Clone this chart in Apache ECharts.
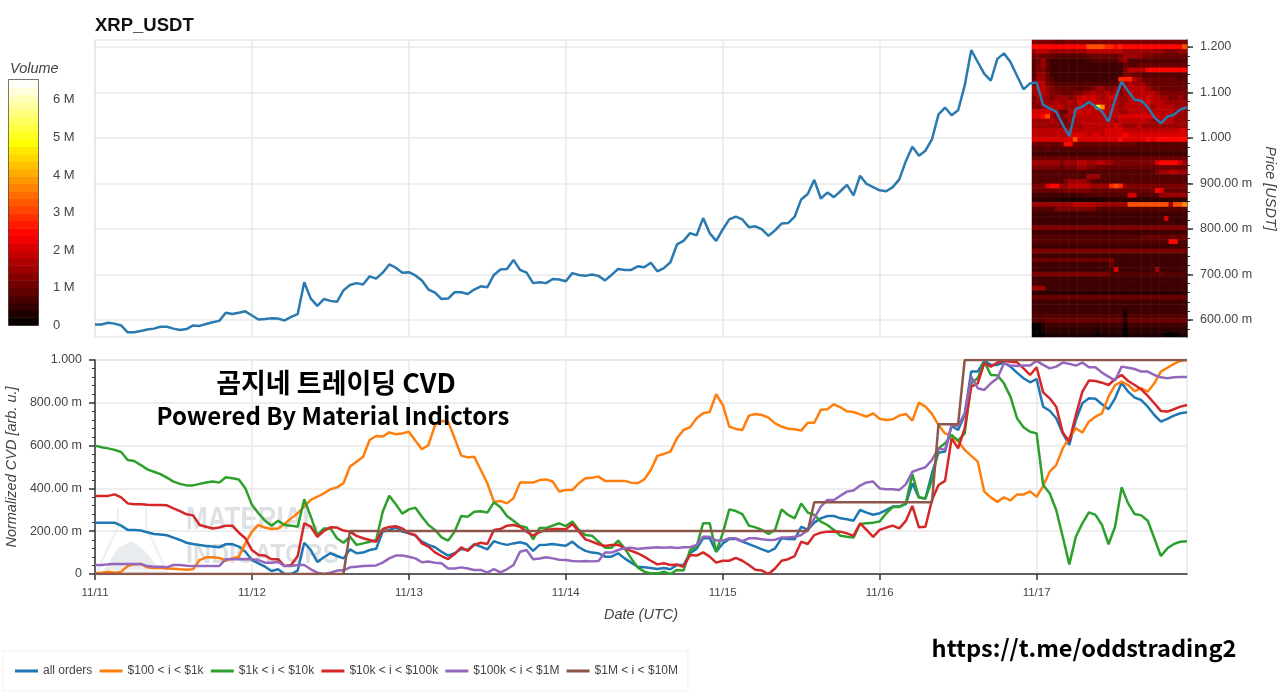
<!DOCTYPE html>
<html>
<head>
<meta charset="utf-8">
<title>XRP_USDT CVD</title>
<script src="https://cdn.jsdelivr.net/npm/echarts@6/dist/echarts.min.js"></script>
<style>
  html, body { margin: 0; padding: 0; background: #fff; }
  #chart { width: 1280px; height: 693px; }
</style>
</head>
<body>
<div id="chart"></div>
<script>
// hourly samples, one line per day
const dayLabels = ['11/11', '11/12', '11/13', '11/14', '11/15', '11/16', '11/17']

const price = [
  .590,.590,.594,.592,.588,.573,.573,.576,.579,.581,.585,.585,.581,.578,.580,.588,.587,.591,.595,.598,.616,.613,.616,.619,
  .610,.601,.602,.604,.603,.599,.607,.613,.683,.647,.631,.646,.642,.640,.665,.677,.681,.678,.696,.691,.704,.722,.715,.704,
  .705,.698,.687,.667,.660,.646,.647,.661,.661,.657,.667,.674,.672,.699,.711,.712,.732,.710,.704,.681,.683,.681,.690,.689,
  .685,.703,.699,.697,.700,.697,.687,.699,.712,.710,.710,.718,.716,.726,.707,.714,.727,.766,.774,.791,.786,.824,.791,.774,
  .799,.821,.827,.821,.804,.806,.799,.785,.797,.812,.813,.827,.865,.877,.908,.867,.880,.870,.883,.897,.874,.917,.899,.892,
  .885,.883,.892,.909,.949,.981,.961,.972,.997,1.052,1.067,1.050,1.061,1.115,1.193,1.167,1.141,1.126,1.174,1.186,1.167,1.137,1.107,1.120,
  1.122,1.073,1.065,1.058,1.029,1.004,1.064,1.069,1.079,1.069,1.058,1.036,1.084,1.124,1.103,1.084,1.082,1.068,1.046,1.032,1.047,1.051,1.063,1.068
]
const priceTicks = [.6, .7, .8, .9, 1, 1.1, 1.2]
const priceMinorTicks = [
  .58, .6, .62, .64, .66, .68, .7, .72, .74, .76, .78, .8, .82, .84, .86, .88, .9, .92, .94, .96,
  .98, 1, 1.02, 1.04, 1.06, 1.08, 1.1, 1.12, 1.14, 1.16, 1.18, 1.2
]

const allOrders = [
  .240,.240,.240,.240,.226,.206,.206,.203,.195,.187,.185,.181,.170,.159,.146,.140,.136,.131,.128,.125,.139,.140,.128,.104,
  .065,.050,.034,.014,.022,0,0,.016,.146,.112,.056,.078,.097,.084,.073,.115,.097,.100,.112,.118,.198,.206,.217,.198,
  .190,.179,.151,.136,.125,.104,.086,.097,.117,.112,.139,.128,.115,.153,.143,.136,.143,.148,.140,.108,.136,.137,.140,.136,
  .132,.151,.125,.108,.100,.097,.081,.081,.097,.073,.053,.034,.031,.028,.023,.028,.022,.042,.042,.097,.117,.167,.167,.104,
  .143,.164,.164,.151,.140,.128,.115,.104,.120,.167,.164,.162,.221,.206,.240,.260,.271,.271,.260,.256,.249,.299,.287,.277,
  .284,.299,.315,.315,.327,.424,.358,.352,.471,.567,.572,.692,.673,.743,.946,.946,.996,.977,.977,.988,.969,.941,.915,.896,
  .911,.782,.763,.728,.657,.603,.720,.798,.821,.819,.793,.770,.821,.894,.852,.824,.813,.782,.743,.712,.725,.740,.751,.756
]

const from100 = [
  .003,.006,.011,.006,.011,.037,.045,.047,.031,.028,.028,.026,.025,.022,.020,.022,.065,.078,.078,.075,.062,.073,.081,.143,
  .198,.229,.217,.210,.213,.234,.260,.284,.315,.346,.361,.377,.396,.405,.424,.502,.525,.548,.626,.645,.642,.662,.653,.657,
  .665,.623,.583,.603,.696,.715,.712,.634,.553,.545,.548,.486,.424,.338,.341,.330,.354,.427,.428,.427,.439,.442,.432,.385,
  .393,.393,.424,.447,.450,.455,.435,.435,.435,.435,.427,.424,.442,.486,.552,.561,.572,.634,.673,.686,.728,.751,.757,.840,
  .790,.689,.678,.673,.740,.748,.743,.731,.704,.689,.679,.676,.670,.707,.707,.767,.770,.793,.779,.760,.757,.746,.735,.751,
  .725,.720,.723,.740,.748,.717,.801,.782,.748,.696,.657,.645,.619,.580,.552,.525,.385,.358,.337,.358,.344,.371,.371,.386,
  .361,.411,.478,.509,.587,.637,.681,.661,.712,.735,.751,.829,.883,.899,.883,.855,.868,.852,.891,.946,.964,.982,.996,1
]

const from1k = [
  .600,.592,.587,.580,.570,.533,.528,.509,.489,.478,.467,.450,.432,.421,.414,.414,.421,.428,.432,.427,.452,.447,.442,.400,
  .323,.284,.249,.226,.249,.229,.226,.221,.349,.268,.182,.213,.213,.167,.146,.174,.136,.143,.151,.159,.291,.366,.326,.282,
  .302,.310,.268,.229,.206,.171,.156,.198,.271,.268,.291,.293,.287,.335,.312,.271,.249,.224,.217,.162,.215,.215,.226,.237,
  .224,.245,.206,.182,.179,.151,.123,.123,.156,.120,.073,.031,.011,.003,.003,.011,0,.019,.016,.112,.128,.237,.237,.104,
  .190,.302,.294,.280,.226,.218,.206,.187,.206,.302,.276,.260,.330,.287,.276,.245,.229,.206,.179,.174,.170,.234,.237,.240,
  .245,.284,.313,.313,.330,.467,.357,.354,.439,.587,.611,.650,.623,.657,.891,.915,.992,.930,.929,.891,.829,.728,.686,.665,
  .657,.416,.377,.299,.174,.045,.174,.237,.288,.276,.229,.139,.221,.405,.330,.280,.274,.249,.167,.084,.120,.140,.151,.153
]

const from10k = [
  .365,.365,.365,.372,.358,.330,.326,.326,.324,.323,.322,.321,.307,.294,.279,.274,.229,.221,.213,.217,.226,.226,.193,.167,
  .112,.089,.086,.069,.069,.037,.042,.084,.237,.221,.174,.201,.218,.217,.203,.198,.178,.167,.159,.151,.210,.220,.223,.213,
  .190,.182,.143,.128,.101,.084,.070,.093,.125,.108,.136,.146,.140,.206,.210,.226,.229,.221,.198,.179,.196,.206,.210,.210,
  .209,.234,.198,.162,.151,.139,.131,.136,.137,.120,.108,.097,.081,.062,.045,.050,.042,.044,.034,.089,.086,.101,.081,.053,
  .062,.062,.075,.062,.042,.020,.016,0,.026,.062,.069,.084,.151,.140,.182,.193,.198,.199,.198,.190,.178,.237,.206,.174,
  .206,.217,.226,.213,.248,.318,.218,.221,.346,.416,.435,.634,.587,.681,.876,.891,.985,.969,.988,.996,.992,.989,.961,.930,
  .966,.849,.821,.782,.661,.619,.743,.852,.904,.902,.894,.883,.911,.930,.902,.883,.863,.832,.798,.762,.759,.770,.782,.790
]

const from100k = [
  .042,.042,.045,.047,.047,.047,.047,.047,.037,.034,.034,.031,.042,.042,.039,.037,.037,.037,.037,.037,.069,.070,.069,.070,
  .069,.065,.053,.053,.056,.037,.037,.042,.042,.022,.006,0,.006,.016,.017,.031,.034,.037,.039,.040,.053,.073,.086,.086,
  .081,.073,.055,.058,.053,.050,.026,.026,.031,.026,.019,.019,.006,.023,.008,.022,.042,.104,.112,.069,.072,.078,.073,.067,
  .065,.061,.059,.061,.059,.061,.100,.100,.112,.120,.123,.117,.120,.123,.125,.123,.125,.122,.125,.125,.136,.174,.174,.156,
  .156,.167,.167,.153,.167,.167,.162,.159,.160,.171,.171,.174,.182,.206,.260,.315,.346,.346,.366,.385,.390,.413,.428,.432,
  .400,.396,.396,.393,.419,.478,.489,.499,.533,.587,.580,.696,.692,.751,.922,.868,.860,.891,.915,.985,.974,.972,.974,.974,
  .996,.977,.961,.969,.988,.982,.974,.988,.966,.966,.941,.922,.904,.969,.964,.958,.946,.946,.930,.919,.915,.919,.921,.921
]

const from1m = [
  0,0,0,0,0,0,0,0,0,0,0,0,0,0,0,0,0,0,0,0,0,0,0,0,
  0,0,0,0,0,0,0,0,0,0,0,0,0,0,0,.201,.201,.201,.201,.201,.201,.201,.201,.201,
  .201,.201,.201,.201,.201,.201,.201,.201,.201,.201,.201,.201,.201,.201,.201,.201,.201,.201,.201,.201,.201,.201,.201,.201,
  .201,.201,.201,.201,.201,.201,.201,.201,.201,.201,.201,.201,.201,.201,.201,.201,.201,.201,.201,.201,.201,.201,.201,.201,
  .201,.201,.201,.201,.201,.201,.201,.201,.201,.201,.201,.201,.201,.201,.335,.335,.335,.335,.335,.335,.335,.335,.335,.335,
  .335,.335,.335,.335,.335,.335,.335,.335,.335,.70,.70,.70,.70,1,1,1,1,1,1,1,1,1,1,1,
  1,1,1,1,1,1,1,1,1,1,1,1,1,1,1,1,1,1,1,1,1,1,1,1
]

// order book volume in millions, one char per cell, see volumeSteps
const volumeKeys = '0123456789abcdef'
const volumeSteps = [0, .3, .45, .6, .8, 1, 1.2, 1.5, 1.8, 2.1, 2.5, 2.8, 3.2, 3.8, 4.4, 5]
const heatRows = [
  '6666655666666666666666666666666666',
  'aaaaaaaaaaaaccccbbabaaaaaaaaaaaaac',
  '7888777777778888888877777777766677',
  '5655544444445555555677776665555555',
  '4574333333333444444674444444444444',
  '4675333333333333333354455555555555',
  '4664333333333333333368888aaaaaaaaa',
  '4775333333333333333366554444444444',
  '5775433333333333333bbb875555555544',
  '6886544444444444444678777655555555',
  '7887655555455677667688888766555555',
  '7787665556677877878678888887666666',
  '6777677767898987898778888988776676',
  '6777787787988988888778888988877777',
  '66778887778888fd888788888878888777',
  '9999875588989888888778888888888777',
  '99ac766778888888888999999999888777',
  '7777876677888888887888888877888777',
  '7777776667788888889877787777777777',
  '8888888888888888999988888888888899',
  '88888888999989989999a9999999999999',
  '999999999c999999999a99999a9aaaaaaa',
  '5555555aa5555555555555544444444444',
  '4445444444444444444444444444444444',
  '3333333333333333333333333333333333',
  '5555555555555555555555555555555555',
  '7777776777887788776666666669aaaa97',
  '6666665666776655555555555555555555',
  '4444444444444444444444444446778877',
  '4444444444447774444444444444444444',
  '4444444677776444444444444444444444',
  '6669aa77888887777bcb76666666666666',
  '555555566666655555555555555a955555',
  '3333333333344444444449944444777777',
  '2222221111111111222222222222222222',
  '777777777888887777777ccccccccc7ccd',
  '4444466666666644444444444444444444',
  '3333333333333333333333333333333333',
  '3333333333333333333333333333393333',
  '3333333333333333333333333333333333',
  '6666666666666666666666666666666666',
  '3333333333333333333333333333333333',
  '4444444444444444444444445555555555',
  '444444444444444444444444444444aa44',
  '3333333333333333333333333333333333',
  '6666666666666666666666666666666666',
  '3333333333333333333333333333333333',
  '5555555555555555563333333333333333',
  '3333333333333333353333333333333333',
  '3333333333333333339333333337333333',
  '6666666666666666644444444444544444',
  '3333333333333333333333333333333333',
  '3333333333333333333333333333333333',
  '7773333333333333333333333333333333',
  '2222222222222222222222222222222222',
  '5555555555555555555555555555555555',
  '3333333333333333333333333333333333',
  '3333333333333333333333333333333333',
  '3333333333333333333313333333333333',
  '4444444444444444444414444444444444',
  '4445555555555555555525555555555555',
  '0013333333333323333313333333333333',
  '0012222222222212222202222222222222',
  '0001111111111101111101111111100011'
]

// colour bar bands, millions of volume
const volumeBands = [
  .1, .3, .5, .7, .9, 1.1, 1.3, 1.5, 1.7, 1.9, 2.1, 2.3, 2.5, 2.7, 2.9, 3.1, 3.3,
  3.5, 3.7, 3.9, 4.1, 4.3, 4.5, 4.7, 4.9, 5.1, 5.3, 5.5, 5.7, 5.9, 6.1, 6.3, 6.5
]

const seriesNames = ['all orders', '$100 < i < $1k', '$1k < i < $10k', '$10k < i < $100k', '$100k < i < $1M', '$1M < i < $10M']
const seriesValues = [allOrders, from100, from1k, from10k, from100k, from1m]
const seriesColors = ['#1f77b4', '#ff7f0e', '#2ca02c', '#d62728', '#9467bd', '#8c564b']

const hours = price.map((_, i) => dayLabels[Math.floor(i / 24)] + ' ' + (i % 24))
const heatCols = heatRows[0].split('').map((_, i) => i)
const heatData = []
heatRows.forEach((row, r) => {
  row.split('').forEach((ch, c) => {
    heatData.push([c, r, volumeSteps[volumeKeys.indexOf(ch)]])
  })
})

const textColor = '#444'
const gridColor = '#e8e8e8'
const axisColor = '#333'
const baseFont = '"Liberation Sans", Arial, sans-serif'
const krFont = '"Noto Sans CJK KR", sans-serif'

function siLabel(v) {
  if (v === 0) return '0'
  return v >= 1 ? v.toFixed(3) : (v * 1000).toFixed(2) + ' m'
}

const dayAxis = (gridIndex, show) => ({
  type: 'category',
  gridIndex: gridIndex,
  data: hours,
  boundaryGap: false,
  name: show ? 'Date (UTC)' : '',
  nameLocation: 'middle',
  nameGap: 33,
  nameTextStyle: { fontStyle: 'italic', fontSize: 14.5, color: textColor, fontFamily: baseFont },
  axisLine: { show: show, onZero: false, lineStyle: { color: axisColor, width: 1.5 } },
  axisTick: { show: show, interval: 23, length: 6, lineStyle: { color: axisColor, width: 1.5 } },
  axisLabel: {
    show: show,
    interval: 23,
    margin: 13,
    fontSize: 11.5,
    color: textColor,
    fontFamily: baseFont,
    formatter: (v) => v.split(' ')[0]
  },
  splitLine: { show: true, interval: 23, lineStyle: { color: gridColor, width: 1.5 } }
})

const valueAxisStyle = {
  axisLine: { show: true, onZero: false, lineStyle: { color: axisColor, width: 1.5 } },
  axisTick: { show: true, length: 6, lineStyle: { color: axisColor, width: 1.5 } },
  splitLine: { show: true, lineStyle: { color: gridColor, width: 1.5 } },
  nameLocation: 'middle',
  nameTextStyle: { fontStyle: 'italic', fontSize: 14.5, color: textColor, fontFamily: baseFont }
}

const chart = echarts.init(document.getElementById('chart'), null, { renderer: 'canvas' })

const option = {
  animation: false,
  backgroundColor: '#fff',
  textStyle: { fontFamily: baseFont },
  title: {
    text: 'XRP_USDT',
    left: 95,
    top: 16,
    padding: 0,
    textStyle: { fontSize: 18.5, fontWeight: 'bold', color: '#111', fontFamily: baseFont }
  },
  grid: [
    { left: 95, top: 40, width: 1092, height: 297, show: true, outerBoundsMode: 'none', borderColor: gridColor, borderWidth: 1.5, backgroundColor: 'transparent' },
    { left: 95, top: 360, width: 1092, height: 214, show: true, outerBoundsMode: 'none', borderColor: gridColor, borderWidth: 1.5, backgroundColor: 'transparent' },
    { left: 1032, top: 40, width: 155, height: 297, outerBoundsMode: 'none' },
    { left: 9, top: 80, width: 29, height: 245, show: true, outerBoundsMode: 'none', borderColor: '#111', borderWidth: 1.5 }
  ],
  xAxis: [
    dayAxis(0, false),
    dayAxis(1, true),
    { type: 'category', gridIndex: 2, data: heatCols, show: false },
    { type: 'category', gridIndex: 3, data: ['volume'], show: false }
  ],
  yAxis: [
    Object.assign({}, valueAxisStyle, {
      type: 'value',
      gridIndex: 0,
      position: 'right',
      min: 0.5626,
      max: 1.2154,
      name: 'Price [USDT]',
      nameRotate: -90,
      nameGap: 75,
      axisTick: { show: true, length: 6, customValues: priceTicks, lineStyle: { color: axisColor, width: 1.5 } },
      axisLabel: { customValues: priceTicks, margin: 13, fontSize: 12.5, color: textColor, fontFamily: baseFont, formatter: siLabel }
    }),
    Object.assign({}, valueAxisStyle, {
      type: 'value',
      gridIndex: 1,
      position: 'left',
      min: 0,
      max: 1,
      interval: 0.2,
      name: 'Normalized CVD [arb. u.]',
      nameRotate: 90,
      nameGap: 73,
      minorTick: { show: true, splitNumber: 5, length: 3, lineStyle: { color: axisColor, width: 1 } },
      axisLabel: { margin: 13, fontSize: 12.5, color: textColor, fontFamily: baseFont, formatter: siLabel }
    }),
    { type: 'category', gridIndex: 2, data: heatRows.map((_, i) => i), inverse: true, show: false },
    { type: 'category', gridIndex: 3, data: volumeBands, show: false },
    {
      type: 'value',
      gridIndex: 3,
      position: 'right',
      min: 0,
      max: 6.53,
      interval: 1,
      name: 'Volume',
      nameLocation: 'end',
      nameRotate: 0,
      nameGap: 4,
      nameTextStyle: { fontStyle: 'italic', fontSize: 14.5, color: textColor, fontFamily: baseFont, align: 'left', padding: [0, 0, 0, -28] },
      axisLine: { show: false },
      axisTick: { show: true, inside: true, length: 5, lineStyle: { color: '#444', width: 1 } },
      splitLine: { show: false },
      axisLabel: {
        showMaxLabel: false,
        margin: 15,
        fontSize: 13,
        color: textColor,
        fontFamily: baseFont,
        formatter: (v) => (v === 0 ? '0' : v + ' M')
      }
    },
    {
      // minor ticks for the price axis
      type: 'value',
      gridIndex: 0,
      position: 'right',
      min: 0.5626,
      max: 1.2154,
      axisLine: { show: false },
      axisTick: { show: true, length: 3, customValues: priceMinorTicks, lineStyle: { color: axisColor, width: 1 } },
      axisLabel: { show: false },
      splitLine: { show: false }
    }
  ],
  visualMap: {
    show: false,
    type: 'continuous',
    min: 0,
    max: 6.53,
    seriesIndex: [0, 1],
    inRange: { color: ['#000000', '#550000', '#aa0000', '#ff0000', '#ff5500', '#ffaa00', '#ffff00', '#ffff80', '#ffffff'] }
  },
  legend: {
    left: 3,
    top: 651,
    padding: [14, 10, 14, 12],
    icon: 'rect',
    itemWidth: 23,
    itemHeight: 3,
    itemGap: 7.2,
    borderColor: '#f0f0f0',
    borderWidth: 1,
    data: seriesNames,
    textStyle: { fontSize: 12, color: textColor, fontFamily: baseFont }
  },
  series: [
    {
      type: 'heatmap',
      xAxisIndex: 2,
      yAxisIndex: 2,
      data: heatData,
      z: 1,
      itemStyle: { borderWidth: 0 },
      emphasis: { disabled: true }
    },
    {
      type: 'heatmap',
      xAxisIndex: 3,
      yAxisIndex: 3,
      data: volumeBands.map((v, i) => [0, i, v]),
      z: 1,
      emphasis: { disabled: true }
    },
    {
      name: 'XRP_USDT',
      type: 'line',
      xAxisIndex: 0,
      yAxisIndex: 0,
      data: price,
      symbol: 'none',
      z: 4,
      lineStyle: { color: '#2a7ab0', width: 2.5 }
    }
  ].concat(seriesNames.map((name, i) => ({
    name: name,
    type: 'line',
    xAxisIndex: 1,
    yAxisIndex: 1,
    data: seriesValues[i],
    symbol: 'none',
    z: 4 + i,
    itemStyle: { color: seriesColors[i] },
    lineStyle: { color: seriesColors[i], width: 2.5 }
  }))),
  graphic: [
    // 워터마크
    {
      type: 'polyline',
      z: 0,
      shape: { points: [[118, 508], [118, 527], [97, 572], [167, 572], [146, 527], [146, 508]] },
      style: { fill: 'none', stroke: '#eceeef', lineWidth: 2 }
    },
    {
      type: 'polygon',
      z: 0,
      shape: { points: [[104, 570], [118, 548], [132, 541], [146, 552], [160, 570]] },
      style: { fill: '#e8ecee' }
    },
    {
      type: 'text',
      z: 0,
      x: 186,
      y: 505,
      scaleY: 1.2,
      style: { text: 'MATERIAL', fontSize: 26, fontWeight: 'bold', fontFamily: baseFont, fill: '#dde1e4' }
    },
    {
      type: 'text',
      z: 0,
      x: 186,
      y: 542,
      scaleY: 1.1,
      style: { text: 'INDICATORS', fontSize: 25, fontWeight: 'bold', fontFamily: baseFont, fill: '#dde1e4' }
    },
    {
      type: 'text',
      z: 20,
      x: 336,
      y: 383,
      style: { text: '곰지네 트레이딩 CVD', fontSize: 27, fontWeight: 'bold', fontFamily: krFont, fill: '#000', align: 'center', verticalAlign: 'middle' }
    },
    {
      type: 'text',
      z: 20,
      x: 333,
      y: 416,
      style: { text: 'Powered By Material Indictors', fontSize: 24, fontWeight: 'bold', fontFamily: krFont, fill: '#000', align: 'center', verticalAlign: 'middle' }
    },
    {
      type: 'text',
      z: 20,
      x: 1084,
      y: 648,
      style: { text: 'https://t.me/oddstrading2', fontSize: 23.6, fontWeight: 'bold', fontFamily: krFont, fill: '#000', align: 'center', verticalAlign: 'middle' }
    }
  ]
}

chart.setOption(option)
</script>
</body>
</html>
